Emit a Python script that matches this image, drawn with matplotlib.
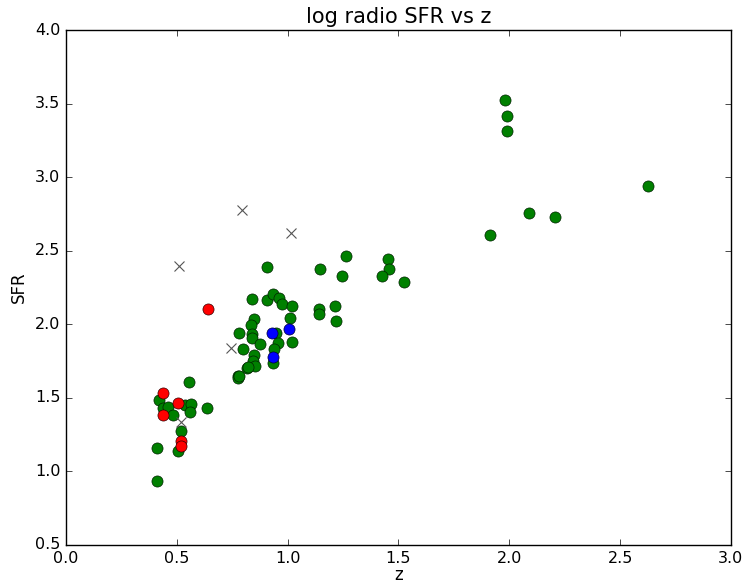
import matplotlib
matplotlib.use("Agg")
import matplotlib.pyplot as plt

# green sources
green_z = [0.409, 0.409, 0.42, 0.439, 0.459, 0.537, 0.564, 0.561, 0.636, 0.484,
           0.517, 0.504, 0.555, 0.782, 0.797, 0.777, 0.777, 0.815,
           0.909, 1.146, 0.839, 0.909, 0.934, 0.962, 0.973, 1.019, 1.141, 1.141,
           1.213, 1.216, 1.012, 0.849, 0.834, 0.840, 0.840, 0.946, 0.955, 1.019,
           0.876, 0.940, 0.934, 0.846, 0.845, 0.854, 0.821, 0.779,
           1.262, 1.245, 1.454, 1.458, 1.425, 1.525,
           1.983, 1.992, 1.992, 2.626, 2.088, 2.206, 1.912]
green_sfr = [0.932, 1.160, 1.485, 1.432, 1.435, 1.449, 1.455, 1.405, 1.433, 1.381,
             1.272, 1.140, 1.609, 1.938, 1.829, 1.648, 1.636, 1.704,
             2.387, 2.373, 2.171, 2.167, 2.207, 2.176, 2.137, 2.124, 2.106, 2.067,
             2.124, 2.024, 2.045, 2.035, 1.995, 1.933, 1.904, 1.938, 1.870, 1.881,
             1.865, 1.831, 1.738, 1.791, 1.750, 1.718, 1.707, 1.651,
             2.466, 2.330, 2.443, 2.373, 2.330, 2.287,
             3.526, 3.415, 3.313, 2.942, 2.758, 2.731, 2.609]

# red sources
red_z = [0.641, 0.436, 0.507, 0.436, 0.517, 0.517]
red_sfr = [2.105, 1.532, 1.466, 1.381, 1.206, 1.170]

# blue sources
blue_z = [1.006, 0.928, 0.932]
blue_sfr = [1.967, 1.938, 1.779]

# crosses
cross_z = [0.510, 0.795, 1.015, 0.744, 0.517]
cross_sfr = [2.398, 2.776, 2.622, 1.837, 1.335]

plt.style.use("classic")
fig = plt.figure(figsize=(7.42, 5.83), dpi=100, facecolor="white")
ax = fig.add_axes([0.089, 0.0652, 0.896, 0.8833])

ax.plot(green_z, green_sfr, "go", markersize=8, markeredgecolor="#002200")
ax.plot(red_z, red_sfr, "ro", markersize=8, markeredgecolor="#330000")
ax.plot(blue_z, blue_sfr, "bo", markersize=8, markeredgecolor="#000033")
ax.plot(cross_z, cross_sfr, "x", color="#555555", markersize=7, markeredgewidth=0.8)

ax.set_xlim(0, 3)
ax.set_ylim(0.5, 4.0)
ax.set_title("log radio SFR vs z", fontsize=15)
ax.set_xlabel("z", fontsize=12, labelpad=0)
ax.set_ylabel("SFR", fontsize=12)
ax.tick_params(labelsize=11.5)

fig.savefig("out.png", dpi=100, facecolor="white")
